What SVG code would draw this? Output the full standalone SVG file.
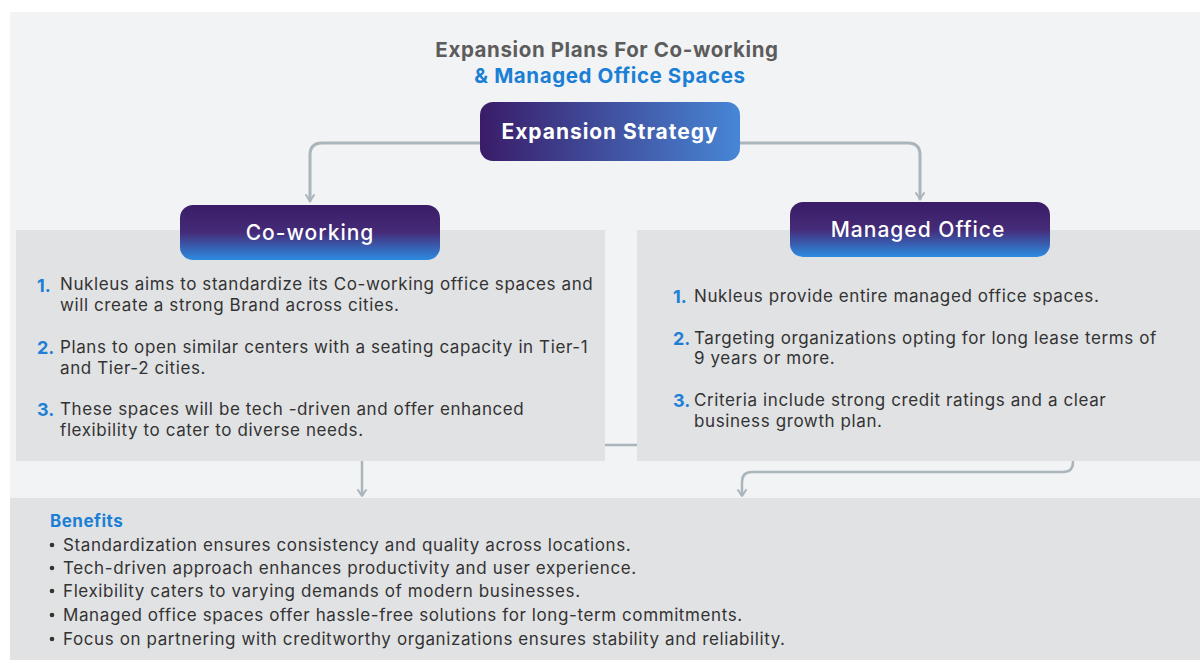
<svg xmlns="http://www.w3.org/2000/svg" width="1200" height="660" viewBox="0 0 1200 660">
<defs>
<linearGradient id="gH" x1="0" y1="0" x2="1" y2="0">
<stop offset="0" stop-color="#3a1c68"/>
<stop offset="1" stop-color="#4786d6"/>
</linearGradient>
<linearGradient id="gV" x1="0" y1="0" x2="0" y2="1">
<stop offset="0" stop-color="#3a1c66"/>
<stop offset="0.5" stop-color="#452b78"/>
<stop offset="1" stop-color="#2d8ce2"/>
</linearGradient>
<marker id="arr" viewBox="0 0 10 10" refX="8" refY="5" markerWidth="10" markerHeight="10" orient="auto" markerUnits="userSpaceOnUse">
<path d="M2,1 L8,5 L2,9" fill="none" stroke="#a9b5bb" stroke-width="2" stroke-linecap="round" stroke-linejoin="round"/>
</marker>
<style>
.conn{fill:none;stroke:#aab6bc;stroke-width:3;stroke-linecap:round;stroke-linejoin:round}
.conn2{fill:none;stroke:#aab6bc;stroke-width:2.5}
.panel{fill:#e1e2e4}
.hdr{font-family:Inter,"Noto Sans",sans-serif;fill:#ffffff;text-anchor:middle}
.num{font-family:Inter,"Noto Sans",sans-serif;font-weight:700;fill:#1d7fd6;font-size:18px}
.body{font-family:Inter,"Noto Sans",sans-serif;fill:#333333;font-size:17px;letter-spacing:0.6px}
.ben{font-family:Inter,"Noto Sans",sans-serif;fill:#333333;font-size:17px;letter-spacing:0.6px}
</style>
</defs>
<rect x="0" y="0" width="1200" height="660" fill="#ffffff"/>
<rect x="10" y="12" width="1190" height="648" fill="#f2f3f5"/>

<g id="title" font-family="Inter,'Noto Sans',sans-serif" font-weight="700" text-anchor="middle" font-size="20.5" letter-spacing="0.6">
<text x="607" y="57" fill="#5c5c5c">Expansion Plans For Co-working</text>
<text x="610" y="83" fill="#1b7fd6">&amp; Managed Office Spaces</text>
</g>

<g id="co-working-panel">
<rect class="panel" x="16" y="230" width="589" height="231"/>
<text class="num" x="37" y="292">1.</text>
<text class="body" x="60" y="290">Nukleus aims to standardize its Co-working office spaces and</text>
<text class="body" x="60" y="311">will create a strong Brand across cities.</text>
<text class="num" x="37" y="354">2.</text>
<text class="body" x="60" y="353">Plans to open similar centers with a seating capacity in Tier-1</text>
<text class="body" x="60" y="374">and Tier-2 cities.</text>
<text class="num" x="37" y="416">3.</text>
<text class="body" x="60" y="415">These spaces will be tech -driven and offer enhanced</text>
<text class="body" x="60" y="436">flexibility to cater to diverse needs.</text>
</g>

<g id="managed-office-panel">
<rect class="panel" x="637" y="230" width="563" height="231"/>
<text class="num" x="673" y="303">1.</text>
<text class="body" x="694" y="302">Nukleus provide entire managed office spaces.</text>
<text class="num" x="673" y="345">2.</text>
<text class="body" x="694" y="344">Targeting organizations opting for long lease terms of</text>
<text class="body" x="694" y="364">9 years or more.</text>
<text class="num" x="673" y="407">3.</text>
<text class="body" x="694" y="406">Criteria include strong credit ratings and a clear</text>
<text class="body" x="694" y="427">business growth plan.</text>
</g>

<g id="benefits">
<rect class="panel" x="10" y="498" width="1190" height="162"/>
<text x="50" y="527" font-family="Inter,'Noto Sans',sans-serif" font-weight="700" font-size="17" letter-spacing="0.5" fill="#1b7fd6">Benefits</text>
<g fill="#333333">
<circle cx="52" cy="545" r="2.3"/>
<circle cx="52" cy="568" r="2.3"/>
<circle cx="52" cy="591" r="2.3"/>
<circle cx="52" cy="615" r="2.3"/>
<circle cx="52" cy="639" r="2.3"/>
</g>
<text class="ben" x="63" y="551">Standardization ensures consistency and quality across locations.</text>
<text class="ben" x="63" y="574">Tech-driven approach enhances productivity and user experience.</text>
<text class="ben" x="63" y="597">Flexibility caters to varying demands of modern businesses.</text>
<text class="ben" x="63" y="621">Managed office spaces offer hassle-free solutions for long-term commitments.</text>
<text class="ben" x="63" y="645">Focus on partnering with creditworthy organizations ensures stability and reliability.</text>
</g>

<g id="connectors">
<path class="conn" d="M480,143 H322 Q310,143 310,155 V201" marker-end="url(#arr)"/>
<path class="conn" d="M740,143 H908 Q920,143 920,155 V199" marker-end="url(#arr)"/>
<path class="conn2" d="M605,445 H637"/>
<path class="conn2" d="M362,461 V496" marker-end="url(#arr)"/>
<path class="conn2" d="M1073,461 V462 Q1073,472 1063,472 H752 Q742,472 742,482 V496" marker-end="url(#arr)"/>
</g>

<g id="expansion-strategy">
<rect x="480" y="102" width="260" height="59" rx="13" fill="url(#gH)"/>
<text class="hdr" x="610" y="139" font-size="21" font-weight="700" letter-spacing="0.95">Expansion Strategy</text>
</g>

<g id="co-working">
<rect x="180" y="205" width="260" height="55" rx="13" fill="url(#gV)"/>
<text class="hdr" x="310" y="240" font-size="21" font-weight="500" letter-spacing="1">Co-working</text>
</g>

<g id="managed-office">
<rect x="790" y="202" width="260" height="55" rx="13" fill="url(#gV)"/>
<text class="hdr" x="918" y="237" font-size="21" font-weight="500" letter-spacing="1">Managed Office</text>
</g>
</svg>
